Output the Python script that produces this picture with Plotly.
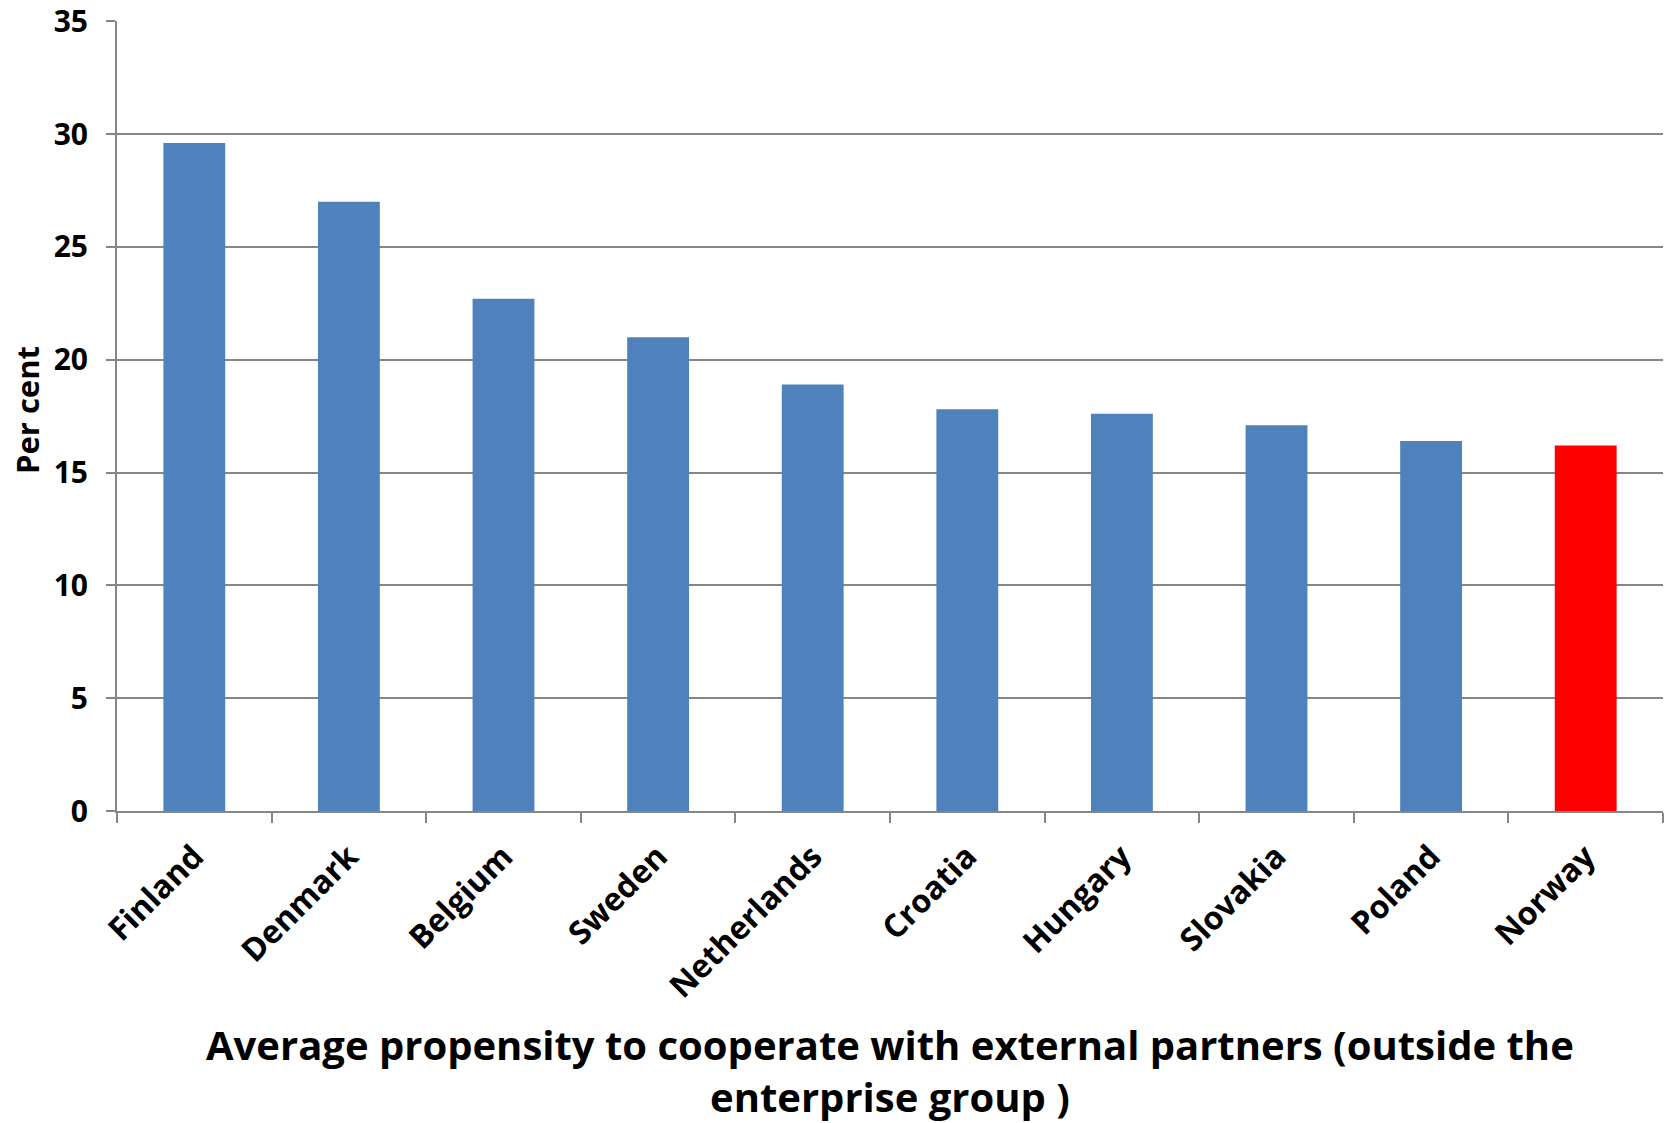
import plotly.graph_objects as go

countries = ["Finland", "Denmark", "Belgium", "Sweden", "Netherlands",
             "Croatia", "Hungary", "Slovakia", "Poland", "Norway"]
values = [29.6, 27.0, 22.7, 21.0, 18.9, 17.8, 17.6, 17.1, 16.4, 16.2]
bar_colors = ["#4F81BD"] * 9 + ["#FF0000"]
y_ticks = [0, 5, 10, 15, 20, 25, 30, 35]

FONT = "Open Sans"
fig = go.Figure(go.Bar(x=countries, y=values, marker=dict(color=bar_colors, line=dict(width=0)),
                       width=0.4))

fig.update_layout(
    width=1669, height=1123,
    margin=dict(l=117, r=6, t=21, b=312),
    plot_bgcolor="white", paper_bgcolor="white",
    showlegend=False,
    font=dict(family=FONT, color="black"),
    xaxis=dict(
        type="category", tickson="boundaries", ticks="outside", ticklen=10,
        tickwidth=2, tickcolor="#868686", showline=True, linecolor="#868686", linewidth=2,
        tickangle=-45, tickfont=dict(family=FONT, size=32, color="black", weight="bold"),
        ticklabelstandoff=12, automargin=False,
        showgrid=False, range=[-0.5, 9.5],
    ),
    yaxis=dict(
        range=[0, 35.01], tickvals=y_ticks, ticks="outside", ticklen=9, tickwidth=2,
        tickcolor="#868686", showline=True, linecolor="#868686", linewidth=2,
        showgrid=True, gridcolor="#868686", gridwidth=2, zeroline=False,
        tickfont=dict(family=FONT, size=30, color="black", weight="bold"),
        ticklabelstandoff=12, automargin=False, ticklabeloverflow="allow",
    ),
    annotations=[
        dict(text="<b>Average propensity to cooperate with external partners (outside the<br>enterprise group )</b>",
             xref="paper", yref="paper", x=0.5, y=-0.329, xanchor="center", yanchor="middle",
             showarrow=False, font=dict(family=FONT, size=40, color="black")),
        dict(text="<b>Per cent</b>", xref="paper", yref="paper", x=-0.0582, y=0.5076,
             xanchor="center", yanchor="middle", textangle=-90, showarrow=False,
             font=dict(family=FONT, size=31, color="black")),
    ],
)

fig.write_html("out.html")
